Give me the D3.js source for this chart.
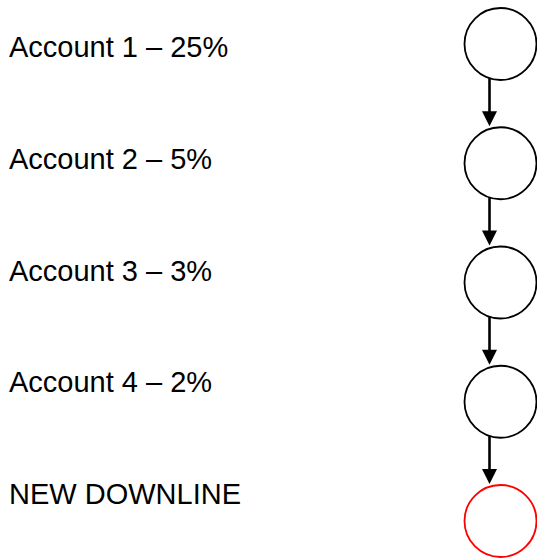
<!DOCTYPE html>
<html>
<head>
<meta charset="utf-8">
<script src="https://d3js.org/d3.v7.min.js"></script>
<style>
  html, body { margin: 0; padding: 0; background: #fff; }
  svg { display: block; }
</style>
</head>
<body>
<div id="chart"></div>
<script>
const labels = ['Account 1 – 25%', 'Account 2 – 5%', 'Account 3 – 3%', 'Account 4 – 2%', 'NEW DOWNLINE'];
const nodeColors = ['#000', '#000', '#000', '#000', '#ff0000'];

const width = 537, height = 558;
const r = 36;
const cx = 500.5;
const arrowX = 489.5;

const svg = d3.select('#chart').append('svg')
    .attr('width', width)
    .attr('height', height);

// circles and labels sit on slightly different spacing
const yNode = d3.scalePoint().domain(d3.range(labels.length)).range([44, 521]);
const yText = d3.scalePoint().domain(d3.range(labels.length)).range([57, 504]);

svg.selectAll('.label')
    .data(labels)
    .enter().append('text')
    .attr('class', 'label')
    .attr('x', 9)
    .attr('y', (d, i) => yText(i))
    .style('font-family', '"Liberation Sans", Arial, sans-serif')
    .style('font-size', '29px')
    .attr('fill', '#000')
    .text(d => d);

// arrows between consecutive nodes
const links = d3.range(labels.length - 1);
const dx = arrowX - cx;
links.forEach(i => {
    const y0 = yNode(i) + Math.sqrt(r * r - dx * dx);
    const tip = yNode(i + 1) - r - 1;
    svg.append('line')
        .attr('x1', arrowX).attr('x2', arrowX)
        .attr('y1', y0).attr('y2', tip - 14)
        .attr('stroke', '#000')
        .attr('stroke-width', 2.6);
    svg.append('path')
        .attr('d', `M${arrowX - 7.5},${tip - 15}L${arrowX + 7.5},${tip - 15}L${arrowX},${tip}Z`)
        .attr('fill', '#000');
});

svg.selectAll('.node')
    .data(labels)
    .enter().append('circle')
    .attr('class', 'node')
    .attr('cx', cx)
    .attr('cy', (d, i) => yNode(i))
    .attr('r', r)
    .attr('fill', 'none')
    .attr('stroke', (d, i) => nodeColors[i])
    .attr('stroke-width', 1.8);
</script>
</body>
</html>
